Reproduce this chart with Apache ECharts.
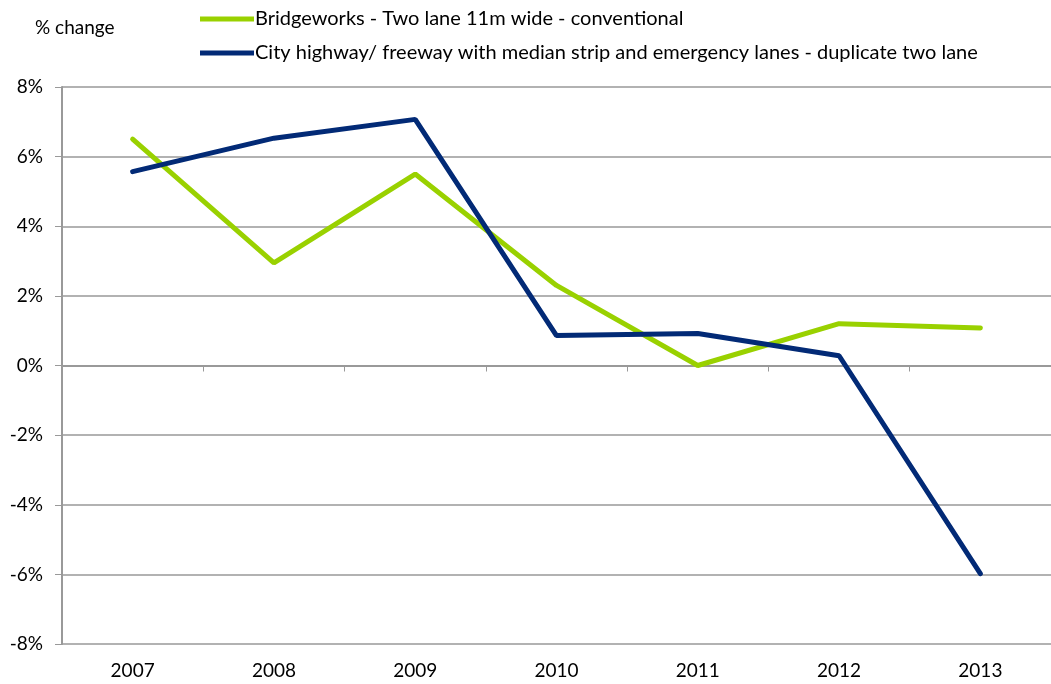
<!DOCTYPE html>
<html>
<head>
<meta charset="UTF-8">
<title>% change</title>
<script src="https://cdn.jsdelivr.net/npm/echarts@6/dist/echarts.min.js"></script>
<style>
    html, body { margin: 0; padding: 0; background: #fff; }
    #chart { width: 1051px; height: 684px; }
</style>
</head>
<body>
<div id="chart"></div>
<script>
    // data
    var years = ['2007', '2008', '2009', '2010', '2011', '2012', '2013'];
    var bridgeName = 'Bridgeworks - Two lane 11m wide - conventional';
    var highwayName = 'City highway/ freeway with median strip and emergency lanes - duplicate two lane';
    var bridgeValues = [6.5, 2.95, 5.5, 2.3, 0.0, 1.2, 1.08];
    var highwayValues = [5.57, 6.53, 7.07, 0.86, 0.92, 0.28, -5.98];

    var font = 'Lato, "Open Sans", sans-serif';
    var gray = '#999999';

    var chart = echarts.init(document.getElementById('chart'));
    chart.setOption({
        animation: false,
        title: {
            text: '% change',
            left: 30, top: 13,
            textStyle: { fontFamily: font, fontSize: 19, fontWeight: 'normal', color: '#000' }
        },
        legend: {
            orient: 'vertical',
            left: 195, top: 4,
            itemGap: 14,
            itemWidth: 54,
            itemHeight: 5,
            icon: 'rect',
            textStyle: { fontFamily: font, fontSize: 20, color: '#000', padding: [0, 0, 0, -4] },
            data: [bridgeName, highwayName]
        },
        grid: { left: 62, width: 993, top: 87, bottom: 40 },
        xAxis: [{
            type: 'category',
            data: years,
            boundaryGap: true,
            axisLine: { onZero: true, lineStyle: { color: gray, width: 2 } },
            axisTick: { show: true, length: 6, lineStyle: { color: gray } },
            axisLabel: { show: false },
            splitLine: { show: false }
        }, {
            type: 'category',
            data: years,
            position: 'bottom',
            boundaryGap: true,
            axisLine: { show: false },
            axisTick: { show: false },
            axisLabel: { fontFamily: font, fontSize: 19, color: '#000', margin: 17 }
        }],
        yAxis: {
            type: 'value',
            min: -8, max: 8, interval: 2,
            axisLine: { show: true, lineStyle: { color: gray, width: 2 } },
            axisTick: { show: true, length: 7, lineStyle: { color: gray } },
            axisLabel: { fontFamily: font, fontSize: 19, color: '#000', margin: 19, formatter: '{value}%' },
            splitLine: { show: true, lineStyle: { color: gray, width: 1.5 } }
        },
        series: [{
            name: bridgeName,
            type: 'line',
            data: bridgeValues,
            showSymbol: false,
            color: '#99d100',
            lineStyle: { width: 5, cap: 'round' }
        }, {
            name: highwayName,
            type: 'line',
            data: highwayValues,
            showSymbol: false,
            color: '#022a76',
            lineStyle: { width: 5, cap: 'round' }
        }]
    });
</script>
</body>
</html>
